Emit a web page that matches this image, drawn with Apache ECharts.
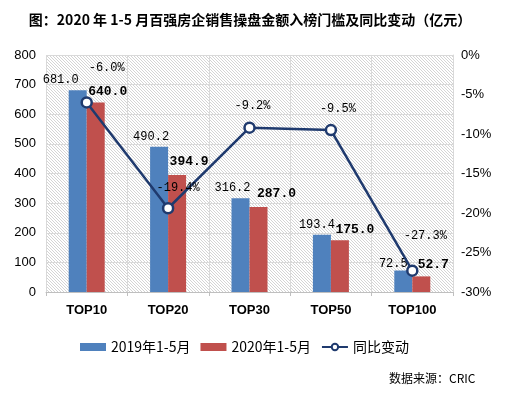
<!DOCTYPE html>
<html>
<head>
<meta charset="utf-8">
<script src="https://cdn.jsdelivr.net/npm/echarts@6/dist/echarts.min.js"></script>
<style>
  html, body { margin: 0; padding: 0; background: #fff; }
  #chart { width: 505px; height: 397px; }
</style>
</head>
<body>
<div id="chart"></div>
<script>
// 数据
var categories = ["TOP10", "TOP20", "TOP30", "TOP50", "TOP100"];
var sales2019 = [681.0, 490.2, 316.2, 193.4, 72.5];
var sales2020 = [640.0, 394.9, 287.0, 175.0, 52.7];
var yoyChange = [-6.0, -19.4, -9.2, -9.5, -27.3];
var leftTicks = { min: 0, max: 800, interval: 100 };
var rightTicks = { min: -30, max: 0, interval: 5 };

// 标签偏移（仿原图手动摆放）
var blueOffsets = [[-17, 0], [-8, 0], [-8, 0], [-5, 0], [-10, 3]];
var redOffsets = [[12, 0], [12, -3], [18, -3], [15, 0], [12, -1]];
var lineOffsets = [[20, -17], [10, -3], [3, -5], [7, -4], [13, -18]];

// 斜线底纹
function makeHatch() {
  var c = document.createElement("canvas");
  c.width = 3;
  c.height = 3;
  var ctx = c.getContext("2d");
  ctx.fillStyle = "#ffffff";
  ctx.fillRect(0, 0, 3, 3);
  ctx.fillStyle = "#d4d4d4";
  for (var i = 0; i < 3; i++) {
    ctx.fillRect(i, i, 1, 1);
  }
  return c;
}

var monoFont = "'Liberation Mono', 'DejaVu Sans Mono', monospace";

function withOffsets(values, offsets, extra) {
  return values.map(function (v, i) {
    return { value: v, label: Object.assign({ offset: offsets[i] }, extra || {}) };
  });
}

var chart = echarts.init(document.getElementById("chart"));
var option = {
  animation: false,
  backgroundColor: "#ffffff",
  title: {
    text: "图：2020 年 1-5 月百强房企销售操盘金额入榜门槛及同比变动（亿元）",
    left: 245,
    textAlign: "center",
    top: 8,
    textStyle: {
      fontFamily: "'Noto Sans CJK SC', sans-serif",
      fontSize: 14,
      fontWeight: "bold",
      color: "#000"
    }
  },
  legend: {
    left: 75,
    top: 335,
    itemWidth: 26,
    itemHeight: 8,
    itemGap: 10,
    textStyle: {
      fontFamily: "'Noto Sans CJK SC', sans-serif",
      fontSize: 14,
      color: "#000"
    },
    data: [
      { name: "2019年1-5月", icon: "rect" },
      { name: "2020年1-5月", icon: "rect" },
      { name: "同比变动" }
    ]
  },
  grid: {
    left: 46,
    right: 52,
    top: 55,
    bottom: 105,
    show: true,
    borderWidth: 0,
    backgroundColor: { image: makeHatch(), repeat: "repeat" }
  },
  xAxis: {
    type: "category",
    data: categories,
    axisLine: { lineStyle: { color: "#bfbfbf" } },
    axisTick: { show: true, length: 4, lineStyle: { color: "#bfbfbf" } },
    splitLine: { show: true, lineStyle: { color: "#d9d9d9" } },
    axisLabel: {
      margin: 12,
      fontFamily: "'Liberation Sans', Arial, sans-serif",
      fontSize: 13,
      fontWeight: "bold",
      color: "#000"
    }
  },
  yAxis: [
    {
      type: "value",
      min: leftTicks.min,
      max: leftTicks.max,
      interval: leftTicks.interval,
      axisLine: { show: false },
      axisTick: { show: false },
      splitLine: { lineStyle: { color: "#d9d9d9" } },
      axisLabel: {
        margin: 10,
        fontFamily: "'Liberation Sans', Arial, sans-serif",
        fontSize: 13,
        color: "#000"
      }
    },
    {
      type: "value",
      min: rightTicks.min,
      max: rightTicks.max,
      interval: rightTicks.interval,
      axisLine: { show: true, lineStyle: { color: "#d9d9d9" } },
      axisTick: { show: false },
      splitLine: { show: false },
      axisLabel: {
        margin: 8,
        formatter: "{value}%",
        fontFamily: "'Liberation Sans', Arial, sans-serif",
        fontSize: 13,
        color: "#000"
      }
    }
  ],
  series: [
    {
      name: "2019年1-5月",
      type: "bar",
      barWidth: 18,
      barGap: "0%",
      itemStyle: { color: "#4f81bd" },
      label: {
        show: true,
        position: "top",
        distance: 4,
        formatter: function (p) { return p.value.toFixed(1); },
        fontFamily: monoFont,
        fontSize: 12,
        color: "#000"
      },
      data: withOffsets(sales2019, blueOffsets)
    },
    {
      name: "2020年1-5月",
      type: "bar",
      barWidth: 18,
      itemStyle: { color: "#c0504d" },
      label: {
        show: true,
        position: "top",
        distance: 4,
        formatter: function (p) { return p.value.toFixed(1); },
        fontFamily: monoFont,
        fontSize: 13,
        fontWeight: "bold",
        color: "#000"
      },
      data: withOffsets(sales2020, redOffsets)
    },
    {
      name: "同比变动",
      type: "line",
      yAxisIndex: 1,
      z: 5,
      symbol: "circle",
      symbolSize: 10,
      lineStyle: { color: "#1f3a6e", width: 2.5 },
      itemStyle: { color: "#ffffff", borderColor: "#1f3a6e", borderWidth: 2.5 },
      label: {
        show: true,
        position: "top",
        formatter: function (p) { return p.value.toFixed(1) + "%"; },
        fontFamily: monoFont,
        fontSize: 12,
        color: "#000"
      },
      data: withOffsets(yoyChange, lineOffsets)
    }
  ],
  graphic: [
    {
      type: "text",
      left: 389,
      top: 372,
      style: {
        text: "数据来源：CRIC",
        font: "12px 'Noto Sans CJK SC', sans-serif",
        fill: "#000"
      }
    }
  ]
};
option && chart.setOption(option);
</script>
</body>
</html>
